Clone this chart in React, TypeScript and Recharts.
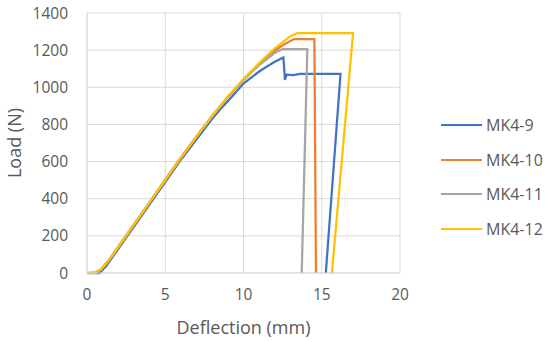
import React from 'react';
import { LineChart, Line, XAxis, YAxis, CartesianGrid } from 'recharts';

type Pt = { x: number; y: number };

const xTicks = [0, 5, 10, 15, 20];
const yTicks = [0, 200, 400, 600, 800, 1000, 1200, 1400];

// deflection (mm), load (N)
const mk49X = [0, 0.8, 1.2, 2, 2.5, 3, 4, 5, 6, 7, 8, 8.5, 9, 10, 11, 11.5, 12, 12.55, 12.65, 12.75, 13.2, 13.6, 16.2, 15.26];
const mk49Y = [0, 0, 35, 130, 190, 250, 370, 490, 610, 720, 830, 880, 925, 1020, 1085, 1112, 1137, 1160, 1040, 1068, 1066, 1072, 1072, 0];

const mk410X = [0, 0.5, 0.9, 1.4, 2, 2.5, 3, 4, 5, 6, 7, 8, 9, 10, 11, 12, 12.55, 13.23, 14.53, 14.63];
const mk410Y = [0, 2, 18, 68, 140, 200, 260, 380, 500, 620, 735, 845, 948, 1042, 1125, 1198, 1229, 1260, 1260, 0];

const mk411X = [0, 0.5, 0.9, 1.4, 2, 2.5, 3, 4, 5, 6, 7, 8, 9, 10, 11, 12, 12.5, 14.08, 13.72];
const mk411Y = [0, 2, 20, 70, 142, 202, 262, 382, 502, 622, 736, 845, 947, 1040, 1120, 1186, 1206, 1206, 0];

const mk412X = [0, 0.5, 0.9, 1.4, 2, 2.5, 3, 4, 5, 6, 7, 8, 9, 10, 11, 12, 13, 13.45, 17, 15.65];
const mk412Y = [0, 2, 20, 70, 140, 200, 260, 380, 500, 620, 735, 845, 950, 1045, 1130, 1210, 1275, 1292, 1292, 0];

const toPts = (xs: number[], ys: number[]): Pt[] => xs.map((x, i) => ({ x, y: ys[i] }));

const series = [
  { name: 'MK4-9', color: '#4472C4', data: toPts(mk49X, mk49Y) },
  { name: 'MK4-10', color: '#ED7D31', data: toPts(mk410X, mk410Y) },
  { name: 'MK4-11', color: '#A5A5A5', data: toPts(mk411X, mk411Y) },
  { name: 'MK4-12', color: '#FFC000', data: toPts(mk412X, mk412Y) },
];

const font = '"Open Sans", sans-serif';
const textColor = '#595959';

function LegendBox() {
  return (
    <div style={{ position: 'absolute', left: 441, top: 107.6, fontFamily: font, fontSize: 16, color: textColor, whiteSpace: 'nowrap' }}>
      {series.map(s => (
        <div key={s.name} style={{ display: 'flex', alignItems: 'center', height: 34.7 }}>
          <div style={{ width: 41, height: 2, background: s.color, marginRight: 4 }} />
          <span>{s.name}</span>
        </div>
      ))}
    </div>
  );
}

export default function App() {
  return (
    <div style={{ position: 'absolute', left: 0, top: 0, width: 550, height: 342, background: '#fff' }}>
      <LineChart width={550} height={342} margin={{ top: 13, right: 150, bottom: 0, left: 0 }}>
        <CartesianGrid stroke="#d9d9d9" strokeWidth={1} />
        <XAxis
          type="number"
          dataKey="x"
          domain={[0, 20]}
          ticks={xTicks}
          height={69}
          stroke="#d9d9d9"
          tickLine={false}
          tickSize={0}
          tickMargin={16}
          tick={{ fontSize: 15.5, fill: textColor, fontFamily: font }}
          label={{ value: 'Deflection (mm)', position: 'insideBottom', offset: 8, fontSize: 18, fill: textColor, fontFamily: font }}
        />
        <YAxis
          type="number"
          domain={[0, 1400]}
          ticks={yTicks}
          width={87}
          stroke="#d9d9d9"
          tickLine={false}
          tickSize={0}
          tickMargin={19}
          tick={{ fontSize: 15.5, fill: textColor, fontFamily: font }}
          label={{ value: 'Load (N)', angle: -90, position: 'insideLeft', offset: 15, fontSize: 18, fill: textColor, fontFamily: font, style: { textAnchor: 'middle' } }}
        />
        {series.map(s => (
          <Line
            key={s.name}
            data={s.data}
            dataKey="y"
            name={s.name}
            stroke={s.color}
            strokeWidth={2.25}
            dot={false}
            type="linear"
            isAnimationActive={false}
          />
        ))}
      </LineChart>
      <LegendBox />
    </div>
  );
}
